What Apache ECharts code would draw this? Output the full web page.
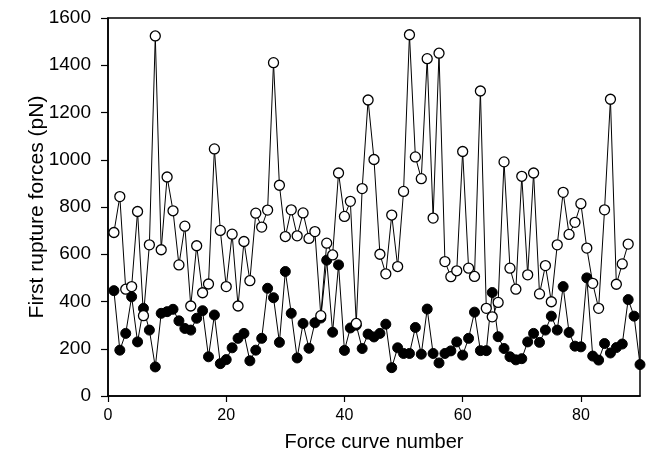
<!DOCTYPE html>
<html>
<head>
<meta charset="utf-8">
<script src="https://cdn.jsdelivr.net/npm/echarts@6/dist/echarts.min.js"></script>
<style>
html,body{margin:0;padding:0;background:#fff;}
#chart{width:650px;height:461px;}
</style>
</head>
<body>
<div id="chart"></div>
<script>
var openValues = [692,844,452,463,781,340,640,1524,619,927,784,555,719,381,636,437,474,1046,701,463,
  685,381,654,488,774,715,787,1411,892,675,788,678,775,667,696,340,647,597,944,760,
  824,307,878,1253,1001,600,517,766,548,866,1529,1012,920,1428,753,1451,569,505,530,1035,
  541,506,1291,371,335,396,991,541,452,930,513,944,432,552,399,640,862,684,735,814,
  626,477,371,788,1256,473,559,643];
var filledValues = [446,194,265,420,229,371,279,123,350,357,367,318,286,279,329,361,166,343,137,154,
  204,244,265,149,194,244,456,416,227,527,350,161,307,202,310,330,575,270,555,193,
  288,300,201,262,250,265,304,120,204,180,180,290,177,368,180,140,180,191,229,173,
  244,355,192,192,438,251,201,166,153,158,229,265,227,279,338,279,463,269,211,208,
  500,169,152,222,182,205,220,408,338,133];
var xTicks = [0,20,40,60,80];
var xTitle = 'Force curve number';
var yTitle = 'First rupture forces (pN)';

function pairs(vals){ return vals.map(function(v,i){ return [i+1, v]; }); }

var chart = echarts.init(document.getElementById('chart'), null, {renderer:'canvas'});
var font = 'Liberation Sans, Arial, sans-serif';
chart.setOption({
  animation:false,
  backgroundColor:'#fff',
  grid:{left:108,top:18,width:532,height:378,show:true,borderColor:'#000',borderWidth:1.5,backgroundColor:'transparent'},
  xAxis:{type:'value',min:0,max:90,interval:20,
    name:xTitle,nameLocation:'middle',nameGap:36,nameMoveOverlap:false,
    nameTextStyle:{fontFamily:font,fontSize:20,color:'#000'},
    axisLine:{show:true,lineStyle:{color:'#000',width:1.5}},
    axisTick:{show:true,length:6,inside:false,lineStyle:{color:'#000',width:1.2},customValues:xTicks},
    axisLabel:{fontFamily:font,fontSize:16,color:'#000',margin:12,customValues:xTicks,
      formatter:function(v){return String(v);}},
    splitLine:{show:false}},
  yAxis:{type:'value',min:0,max:1600,interval:200,
    name:yTitle,nameLocation:'middle',nameGap:60,nameRotate:90,nameMoveOverlap:false,
    nameTextStyle:{fontFamily:font,fontSize:21,color:'#000'},
    axisLine:{show:true,lineStyle:{color:'#000',width:1.5}},
    axisTick:{show:true,length:7,inside:false,lineStyle:{color:'#000',width:1.2}},
    axisLabel:{fontFamily:font,fontSize:19,color:'#000',margin:17,
      formatter:function(v){return String(v);}},
    splitLine:{show:false}},
  series:[
    {type:'line',data:pairs(filledValues),symbol:'circle',symbolSize:10,showSymbol:true,
     lineStyle:{color:'#000',width:1},itemStyle:{color:'#000',borderColor:'#000',borderWidth:1},z:2},
    {type:'line',data:pairs(openValues),symbol:'circle',symbolSize:10,showSymbol:true,
     lineStyle:{color:'#000',width:1},itemStyle:{color:'#fff',borderColor:'#000',borderWidth:1.3},z:3}
  ]
});
</script>
</body>
</html>
